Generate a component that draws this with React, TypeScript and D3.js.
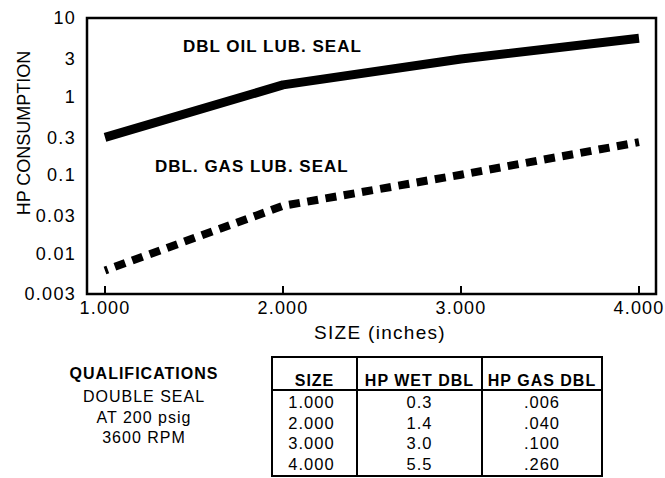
import React from "react";
import * as d3 from "d3";

const sizes = [1, 2, 3, 4];
const hpWetDbl = [0.3, 1.4, 3.0, 5.5];
const hpGasDbl = [0.006, 0.04, 0.1, 0.26];
const xTickLabels = ["1.000", "2.000", "3.000", "4.000"];
const yTickValues = [10, 3, 1, 0.3, 0.1, 0.03, 0.01, 0.003];
const yTickLabels = ["10", "3", "1", "0.3", "0.1", "0.03", "0.01", "0.003"];
const tableHeaders = ["SIZE", "HP WET DBL", "HP GAS DBL"];
const tableSize = ["1.000", "2.000", "3.000", "4.000"];
const tableWet = ["0.3", "1.4", "3.0", "5.5"];
const tableGas = [".006", ".040", ".100", ".260"];
const qualTitle = "QUALIFICATIONS";
const qualLines = ["DOUBLE SEAL", "AT 200 psig", "3600 RPM"];

const FONT = "'Liberation Sans', Arial, Helvetica, sans-serif";

export default function App() {
  const W = 665, H = 478;
  const plot = { l: 87, r: 656, t: 18, b: 294 };
  const x = d3.scaleLinear().domain([1, 4]).range([105, 639]);
  const y = d3.scaleLog().domain([0.003, 10]).range([plot.b, plot.t]);
  const line = d3
    .line<number>()
    .x((_, i) => x(sizes[i]))
    .y((d) => y(d));

  const tbl = { l: 272, r: 602, t: 357, b: 476, c1: 357, c2: 482, hb: 390 };
  const colCenters = [(tbl.l + tbl.c1) / 2, (tbl.c1 + tbl.c2) / 2, (tbl.c2 + tbl.r) / 2];
  const cols = [tableSize, tableWet, tableGas];

  return (
    <svg
      width={W}
      height={H}
      style={{ position: "absolute", left: 0, top: 0, background: "#fff" }}
      fontFamily={FONT}
    >
      <rect x={0} y={0} width={W} height={H} fill="#fff" />
      {/* plot frame */}
      <rect
        x={plot.l}
        y={plot.t}
        width={plot.r - plot.l}
        height={plot.b - plot.t}
        fill="none"
        stroke="#000"
        strokeWidth={2.5}
      />
      {/* x ticks */}
      {sizes.map((s, i) => (
        <g key={"xt" + i}>
          <line x1={x(s)} x2={x(s)} y1={plot.b} y2={plot.b - 8} stroke="#000" strokeWidth={2} />
          <text
            x={x(s)}
            y={314}
            textAnchor="middle"
            fontSize={18}
            letterSpacing={1.2}
            fill="#000"
          >
            {xTickLabels[i]}
          </text>
        </g>
      ))}
      <text x={380} y={339} textAnchor="middle" fontSize={19} letterSpacing={1.3} fill="#000">
        SIZE (inches)
      </text>
      {/* y tick labels */}
      {yTickValues.map((v, i) => (
        <text
          key={"yt" + i}
          x={76}
          y={y(v)}
          dy="0.36em"
          textAnchor="end"
          fontSize={18}
          letterSpacing={1.3}
          fill="#000"
        >
          {yTickLabels[i]}
        </text>
      ))}
      <text
        transform={`translate(30,133) rotate(-90)`}
        textAnchor="middle"
        fontSize={18}
        letterSpacing={0}
        fill="#000"
      >
        HP CONSUMPTION
      </text>
      {/* series */}
      <path d={line(hpWetDbl) || ""} fill="none" stroke="#000" strokeWidth={9} strokeLinejoin="round" />
      <path
        d={line(hpGasDbl) || ""}
        fill="none"
        stroke="#000"
        strokeWidth={8}
        strokeDasharray="11 7.5"
        strokeDashoffset={8}
      />
      <text x={183} y={52} fontSize={17} fontWeight="bold" letterSpacing={1} fill="#000">
        DBL OIL LUB. SEAL
      </text>
      <text x={155} y={172} fontSize={17} fontWeight="bold" letterSpacing={1} fill="#000">
        DBL. GAS LUB. SEAL
      </text>
      {/* qualifications */}
      <text x={144} y={379} textAnchor="middle" fontSize={16} fontWeight="bold" letterSpacing={1} fill="#000">
        {qualTitle}
      </text>
      {qualLines.map((t, i) => (
        <text
          key={"q" + i}
          x={144}
          y={402 + i * 20.5}
          textAnchor="middle"
          fontSize={16}
          letterSpacing={1}
          fill="#000"
        >
          {t}
        </text>
      ))}
      {/* table */}
      <rect
        x={tbl.l}
        y={tbl.t}
        width={tbl.r - tbl.l}
        height={tbl.b - tbl.t}
        fill="none"
        stroke="#000"
        strokeWidth={2}
      />
      <line x1={tbl.c1} x2={tbl.c1} y1={tbl.t} y2={tbl.b} stroke="#000" strokeWidth={2} />
      <line x1={tbl.c2} x2={tbl.c2} y1={tbl.t} y2={tbl.b} stroke="#000" strokeWidth={2} />
      <line x1={tbl.l} x2={tbl.r} y1={tbl.hb} y2={tbl.hb} stroke="#000" strokeWidth={2} />
      {tableHeaders.map((h, i) => (
        <text
          key={"h" + i}
          x={colCenters[i]}
          y={386}
          textAnchor="middle"
          fontSize={16}
          fontWeight="bold"
          letterSpacing={1}
          fill="#000"
        >
          {h}
        </text>
      ))}
      {cols.map((col, ci) =>
        col.map((v, ri) => (
          <text
            key={"c" + ci + "-" + ri}
            x={colCenters[ci] - (ci === 0 ? 3 : 0)}
            y={408 + ri * 20.7}
            textAnchor="middle"
            fontSize={16.5}
            letterSpacing={1}
            fill="#000"
          >
            {v}
          </text>
        ))
      )}
    </svg>
  );
}
